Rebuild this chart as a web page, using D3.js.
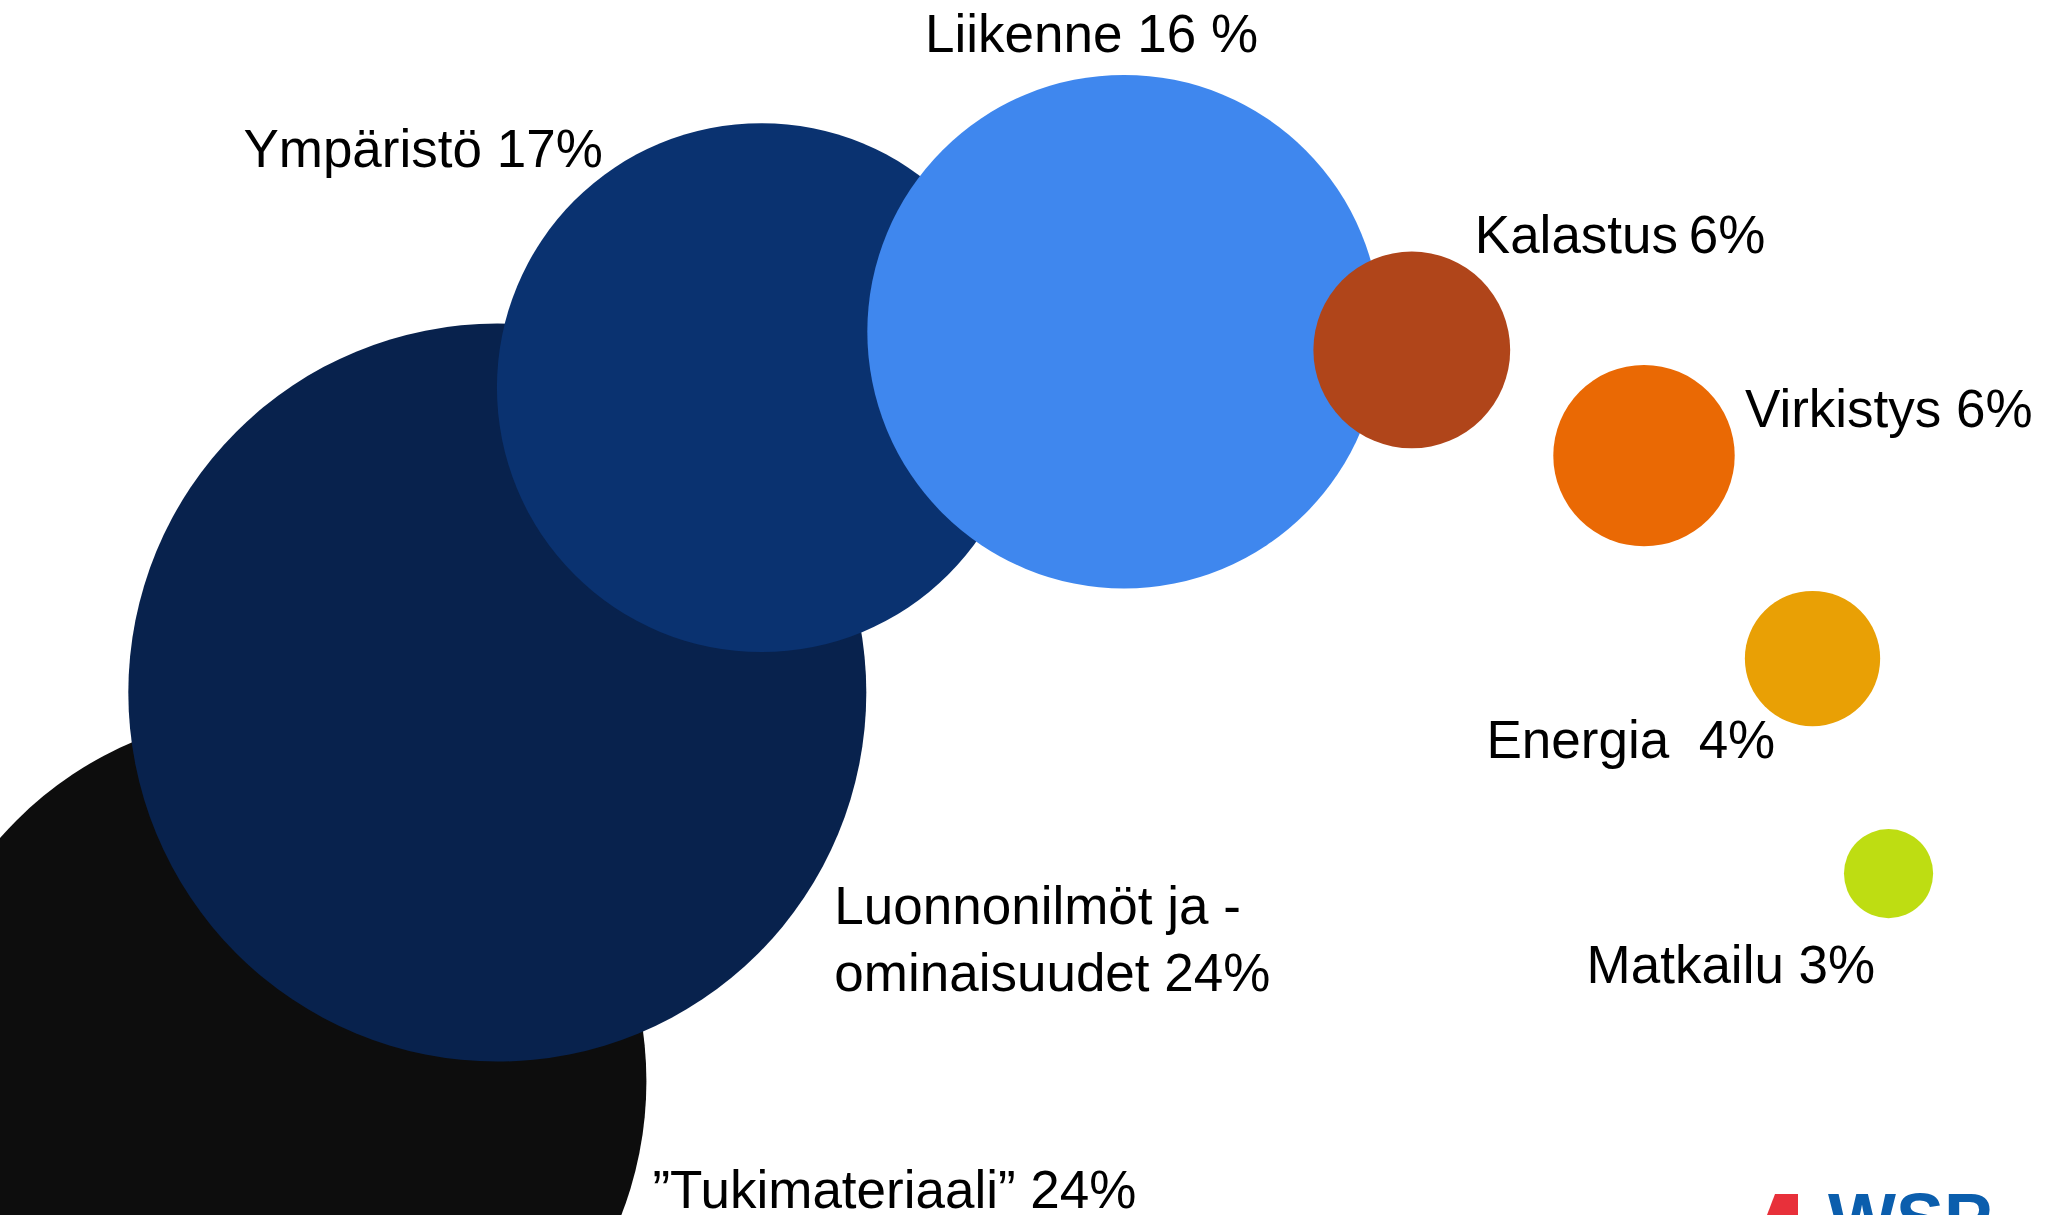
<!DOCTYPE html>
<html>
<head>
<meta charset="utf-8">
<script src="https://cdn.jsdelivr.net/npm/d3@7"></script>
<style>
    html, body { margin: 0; padding: 0; background: #fff; overflow: hidden; }
    text { font-family: "Liberation Sans", Arial, sans-serif; white-space: pre; }
</style>
</head>
<body>
<div id="chart"></div>
<script>
"use strict";

// bubble chart data: category, rounded share shown in label (%), bubble size (unrounded share, estimated),
// x / y in chart units (0..10)
var categories = ["”Tukimateriaali”", "Luonnonilmöt ja -ominaisuudet", "Ympäristö", "Liikenne",
    "Kalastus", "Virkistys", "Energia", "Matkailu"];
var shares = [24, 24, 17, 16, 6, 6, 4, 3];
var bubbleSize = [24.0, 24.0, 17.2, 16.7, 6.4, 5.9, 4.4, 2.9];
var bubbleX = [1.35, 2.42, 3.705, 5.47, 6.87, 8.00, 8.82, 9.19];
var bubbleY = [1.10, 4.30, 6.81, 7.27, 7.12, 6.25, 4.58, 2.81];
var labelLines = [
    ["”Tukimateriaali” 24%"],
    ["Luonnonilmöt ja -", "ominaisuudet 24%"],
    ["Ympäristö 17%"],
    ["Liikenne 16 %"],
    ["Kalastus\u20096%"],
    ["Virkistys 6%"],
    ["Energia  4%"],
    ["Matkailu 3%"]
];

var colors = ["#0d0d0d", "#08224d", "#0a3270", "#3f87ee", "#b0451a", "#ea6904", "#e9a005", "#bedd12"];
// label placement relative to bubble centre (px)
var labelOffset = [[375, 127], [337, 231], [-518, -221], [-199, -280], [63, -97], [101, -29], [-326, 99], [-302, 109]];

var width = 2055, height = 1215;
var fontSize = 53, lineGap = 67;

var svg = d3.select("#chart").append("svg")
    .attr("width", width)
    .attr("height", height);

svg.append("rect").attr("width", width).attr("height", height).attr("fill", "#fff");

var x = d3.scaleLinear().domain([0, 10]).range([0, width]);
var y = d3.scaleLinear().domain([0, 10]).range([height, 0]);
var r = d3.scaleLinear().domain([0, 24]).range([0, 369]);

var data = categories.map(function (c, i) {
    return { name: c, share: shares[i], size: bubbleSize[i], x: bubbleX[i], y: bubbleY[i], lines: labelLines[i], color: colors[i], off: labelOffset[i] };
});

svg.append("g")
    .attr("class", "bubbles")
    .selectAll("circle")
    .data(data)
    .enter().append("circle")
    .attr("cx", function (d) { return x(d.x); })
    .attr("cy", function (d) { return y(d.y); })
    .attr("r", function (d) { return r(d.size); })
    .attr("fill", function (d) { return d.color; });

var label = svg.append("g")
    .attr("class", "labels")
    .selectAll("text")
    .data(data)
    .enter().append("text")
    .attr("font-size", fontSize)
    .attr("fill", "#000")
    .attr("x", function (d) { return x(d.x) + d.off[0]; })
    .attr("y", function (d) { return y(d.y) + d.off[1]; });

label.selectAll("tspan")
    .data(function (d) { return d.lines.map(function (l) { return { text: l, parent: d }; }); })
    .enter().append("tspan")
    .attr("x", function (l) { return x(l.parent.x) + l.parent.off[0]; })
    .attr("dy", function (l, i) { return i === 0 ? 0 : lineGap; })
    .text(function (l) { return l.text; });

// logo, cut by the bottom edge
var logo = svg.append("g").attr("class", "logo");
logo.append("path")
    .attr("d", "M1767,1215 L1775,1194 L1798,1194 L1798,1215 Z")
    .attr("fill", "#e8303a");
logo.append("text")
    .attr("x", 1828)
    .attr("y", 1244)
    .attr("font-size", 72)
    .attr("font-weight", "bold")
    .attr("fill", "#0b5ead")
    .text("WSP");
</script>
</body>
</html>
